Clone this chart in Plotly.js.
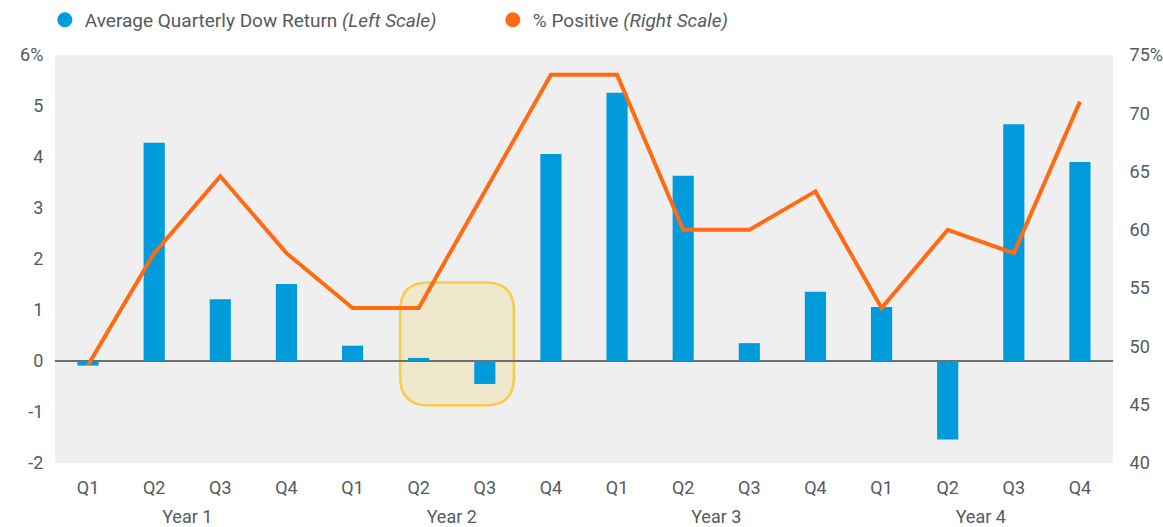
<!DOCTYPE html>
<html><head><meta charset="utf-8">
<script src="https://cdn.plot.ly/plotly-3.0.1.min.js"></script>
<style>html,body{margin:0;padding:0;background:#fff}#c{width:1163px;height:527px}</style>
</head><body><div id="c"></div>
<script>
const quarters = ["Q1","Q2","Q3","Q4","Q1","Q2","Q3","Q4","Q1","Q2","Q3","Q4","Q1","Q2","Q3","Q4"];
const years = ["Year 1","Year 2","Year 3","Year 4"];
const dowReturn = [-0.09, 4.28, 1.21, 1.51, 0.30, 0.06, -0.45, 4.06, 5.26, 3.63, 0.35, 1.36, 1.06, -1.54, 4.64, 3.90];
const pctPositive = [48.4, 58.0, 64.6, 58.0, 53.3, 53.3, 63.3, 73.3, 73.3, 60.0, 60.0, 63.3, 53.3, 60.0, 58.0, 71.0];
const leftTicks = [-2,-1,0,1,2,3,4,5,6];
const leftTickText = ["-2","-1","0","1","2","3","4","5","6%"];
const rightTicks = [40,45,50,55,60,65,70,75];
const rightTickText = ["40","45","50","55","60","65","70","75%"];

const idx = quarters.map((q,i)=>i);
const yearPos = years.map((y,i)=>i*4+1.5);
const blue = "#009bdb", orange = "#ff6a13", txt = "#555a60";
const F = "Roboto";

const traces = [
  {type:"bar", x:idx, y:dowReturn, marker:{color:blue}, width:0.32, showlegend:false, yaxis:"y"},
  {type:"scatter", mode:"lines", x:idx, y:pctPositive, yaxis:"y2", line:{color:orange, width:4}, showlegend:false},
  {type:"scatter", mode:"markers", x:[null], y:[null], marker:{color:blue, size:15, symbol:"circle"},
   name:"Average Quarterly Dow Return <i>(Left Scale)</i>"},
  {type:"scatter", mode:"markers", x:[null], y:[null], marker:{color:orange, size:15, symbol:"circle"},
   name:"% Positive <i>(Right Scale)</i>", yaxis:"y2"},
  {type:"scatter", mode:"markers", x:[yearPos[0]], y:[null], xaxis:"x2", showlegend:false, hoverinfo:"skip"}
];

const r = 0.42, ry = 0.56;
const x0 = 4.72, x1 = 6.44, y0 = -0.87, y1 = 1.54;
const path = `M ${x0+r} ${y0} L ${x1-r} ${y0} Q ${x1} ${y0} ${x1} ${y0+ry} L ${x1} ${y1-ry} Q ${x1} ${y1} ${x1-r} ${y1} L ${x0+r} ${y1} Q ${x0} ${y1} ${x0} ${y1-ry} L ${x0} ${y0+ry} Q ${x0} ${y0} ${x0+r} ${y0} Z`;

const layout = {
  width:1163, height:527,
  margin:{l:55, r:50, t:55, b:64, autoexpand:false},
  paper_bgcolor:"#ffffff", plot_bgcolor:"#efefef",
  font:{family:F, size:18, color:txt},
  xaxis:{range:[-0.5,15.5], tickvals:idx, ticktext:quarters, showgrid:false, zeroline:false, automargin:false,
         showline:false, ticks:"outside", ticklen:8, tickcolor:"rgba(0,0,0,0)", tickfont:{size:18, color:txt, family:F}},
  xaxis2:{overlaying:"x", side:"bottom", anchor:"y", range:[-0.5,15.5], tickvals:yearPos, ticktext:years, automargin:false,
          showgrid:false, zeroline:false, showline:false, ticks:"outside", ticklen:37, tickcolor:"rgba(0,0,0,0)",
          tickfont:{size:18, color:txt, family:F}},
  yaxis:{range:[-2,6], tickvals:leftTicks, ticktext:leftTickText, showgrid:false, zeroline:true, automargin:false,
         zerolinecolor:"#6e6e6e", zerolinewidth:1.5, ticks:"outside", ticklen:7, tickcolor:"rgba(0,0,0,0)",
         tickfont:{size:18, color:txt, family:F}},
  yaxis2:{range:[40,75], overlaying:"y", side:"right", tickvals:rightTicks, ticktext:rightTickText, automargin:false,
          showgrid:false, zeroline:false, ticks:"outside", ticklen:12, tickcolor:"rgba(0,0,0,0)",
          tickfont:{size:18, color:txt, family:F}},
  legend:{orientation:"h", x:-0.0096, xanchor:"left", y:1.086, yanchor:"middle", entrywidth:403,
          font:{size:19, color:txt, family:F}, bgcolor:"rgba(0,0,0,0)"},
  shapes:[{type:"path", xref:"x", yref:"y", path:path, layer:"below",
           fillcolor:"rgba(240,215,120,0.28)", line:{color:"#f5cd4a", width:2.5}}],
  showlegend:true
};
Plotly.newPlot("c", traces, layout, {displayModeBar:false, staticPlot:true});
</script></body></html>
